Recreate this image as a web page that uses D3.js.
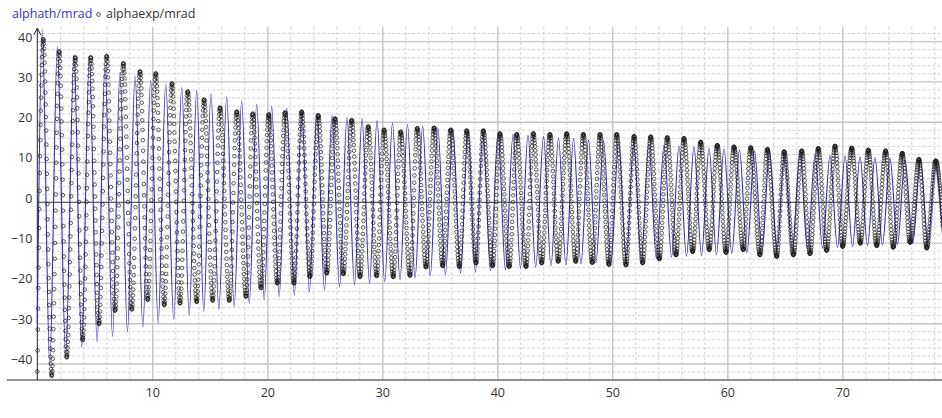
<!DOCTYPE html>
<html>
<head>
<meta charset="utf-8">
<script src="https://cdn.jsdelivr.net/npm/d3@7"></script>
<style>
body { margin: 0; background: #fff; }
svg { display: block; font-family: "Open Sans", "Segoe UI", sans-serif; }
.ticklabels text { fill: #333; font-size: 12.5px; }
</style>
</head>
<body>
<div id="chart"></div>
<script>
// theory curve: start value, then alternating peaks / troughs (t in s, alpha in mrad)
const thTime = [0, 0.43, 1.08, 1.74, 2.47, 3.19, 3.86, 4.52, 5.20, 5.89, 6.54, 7.19, 7.84, 8.50, 9.18, 9.86, 10.51,
    11.17, 11.86, 12.56, 13.21, 13.86, 14.48, 15.10, 15.79, 16.47, 17.12, 17.77, 18.43, 19.08, 19.73, 20.38, 21.03,
    21.69, 22.35, 23.00, 23.66, 24.31, 24.97, 25.63, 26.28, 26.93, 27.58, 28.24, 28.89, 29.54, 30.21, 30.89, 31.54,
    32.19, 32.85, 33.51, 34.17, 34.83, 35.49, 36.14, 36.80, 37.45, 38.10, 38.76, 39.41, 40.06, 40.71, 41.37, 42.02,
    42.67, 43.34, 44.02, 44.67, 45.32, 45.97, 46.63, 47.28, 47.93, 48.58, 49.24, 49.89, 50.55, 51.21, 51.86, 52.52,
    53.17, 53.83, 54.50, 55.15, 55.80, 56.45, 57.10, 57.76, 58.41, 59.06, 59.71, 60.39, 61.06, 61.71, 62.37, 63.02,
    63.67, 64.32, 64.97, 65.65, 66.32, 66.97, 67.63, 68.28, 68.93, 69.58, 70.24, 70.89, 71.54, 72.19, 72.84, 73.49,
    74.15, 74.80, 75.45, 76.13, 76.80, 77.45, 78.10, 78.75];
const thValue = [-30, 43, -40.5, 38.5, -38, 36.5, -36, 35.5, -34.6, 34, -33.3, 32.3, -32.1, 31.3, -30.9, 30.3, -30,
    29.4, -29, 28.5, -28, 27.7, -27.1, 27, -26.6, 26.2, -25.9, 25.2, -25.1, 24.3, -24.2, 23.8, -23.4, 23.4, -23,
    22.6, -22.2, 22, -21.8, 21.5, -21, 21.1, -20.5, 20.7, -20.1, 20.3, -19.7, 19.7, -19.3, 19.3, -18.8, 18.9, -18.3,
    18.5, -18, 18.1, -17.6, 17.8, -17.3, 17.5, -17, 17.2, -16.7, 16.9, -16.4, 16.6, -16.1, 16.3, -15.8, 16, -15.5,
    15.8, -15.3, 15.5, -15, 15.3, -14.7, 15, -14.4, 14.8, -14.1, 14.5, -13.9, 14.2, -13.6, 13.9, -13.4, 13.7, -13.2,
    13.4, -13, 13.3, -12.7, 13, -12.5, 12.7, -12.2, 12.5, -12, 12.3, -11.8, 12, -11.6, 11.8, -11.4, 11.6, -11.2,
    11.5, -11, 11.3, -10.8, 11.1, -10.6, 10.9, -10.4, 10.6, -10.2, 10.2, -10, 9.8, -9.7];

// measured data: alternating troughs / peaks
const expTime = [0.00, 0.52, 1.25, 1.91, 2.56, 3.30, 3.95, 4.64, 5.37, 6.03, 6.76, 7.48, 8.21, 8.93, 9.60, 10.30,
    11.04, 11.71, 12.41, 13.08, 13.86, 14.50, 15.25, 15.89, 16.70, 17.34, 18.15, 18.73, 19.45, 20.12, 20.87, 21.54,
    22.32, 22.99, 23.71, 24.43, 25.17, 25.89, 26.61, 27.34, 28.06, 28.78, 29.51, 30.15, 30.96, 31.60, 32.41, 33.04,
    33.80, 34.50, 35.25, 35.95, 36.70, 37.34, 38.15, 38.78, 39.60, 40.23, 41.04, 41.69, 42.50, 43.13, 43.86, 44.58,
    45.30, 46.03, 46.82, 47.48, 48.26, 48.93, 49.71, 50.38, 51.19, 51.89, 52.64, 53.34, 54.09, 54.78, 55.54, 56.23,
    56.99, 57.69, 58.43, 59.13, 59.89, 60.58, 61.39, 62.03, 62.84, 63.48, 64.30, 64.94, 65.75, 66.47, 67.19, 67.91,
    68.64, 69.37, 70.03, 70.82, 71.57, 72.26, 72.99, 73.77, 74.43, 75.22, 75.89, 76.67, 77.34, 78.12, 78.85];
const expValue = [-42, 40.5, -43.1, 37.5, -38.5, 36, -34.2, 36, -30.2, 36.3, -26.9, 34.5, -26.6, 32.5, -24.2, 32,
    -25.5, 29.5, -25.1, 27.5, -24.7, 25.5, -24.4, 23.5, -24.4, 22.5, -23.4, 22, -21.3, 21.8, -20.1, 22.3, -20.1, 22.5,
    -18.5, 21.6, -17.6, 20.8, -17.8, 20.4, -18.5, 18.8, -18.3, 18.0, -18.5, 17.5, -18.2, 18.4, -16.1, 18.5, -15.8,
    18.0, -16.0, 17.8, -15.1, 17.8, -15.8, 17.1, -16.0, 16.9, -16.0, 17.1, -15.1, 16.9, -14.7, 17.1, -14.7, 16.9,
    -15.0, 16.9, -15.5, 16.9, -15.6, 16.4, -15.1, 16.3, -14.1, 16.1, -13.1, 15.9, -12.3, 15.0, -11.8, 14.2, -12.5,
    13.8, -11.8, 13.6, -13.1, 13.2, -13.5, 12.6, -13.1, 12.8, -12.8, 13.4, -12.0, 14.0, -11.0, 13.5, -10.2, 13.0,
    -10.8, 12.8, -11.2, 12.2, -10.0, 10.7, -11.4, 10.3, -10.5];
const sampleStep = 0.022; // measuring interval, s

const xTicks = [10, 20, 30, 40, 50, 60, 70];
const yTicks = [-40, -30, -20, -10, 0, 10, 20, 30, 40];

const width = 942, height = 418;
const svg = d3.select("#chart").append("svg")
    .attr("width", width)
    .attr("height", height);

const x = d3.scaleLinear().domain([-3.2435, 78.67]).range([0, width]);
const y = d3.scaleLinear().domain([-44.1, 43.5]).range([380, 27]);
const plotLeft = x(0), plotTop = y(43.5), plotBottom = y(-44.1), plotRight = width;

const xMinor = d3.range(2, 79, 2).filter(v => v % 10 !== 0);
const yMinor = d3.range(-44, 44, 2).filter(v => v % 10 !== 0);

// minor grid (dashed)
svg.append("g")
    .attr("transform", `translate(0,${plotBottom})`)
    .call(d3.axisBottom(x).tickValues(xMinor).tickSize(-(plotBottom - plotTop)).tickFormat(""))
    .call(g => g.select(".domain").remove())
    .selectAll("line").attr("stroke", "#d2d2d2").attr("stroke-dasharray", "3,2");
svg.append("g")
    .attr("transform", `translate(${plotLeft},0)`)
    .call(d3.axisLeft(y).tickValues(yMinor).tickSize(-(plotRight - plotLeft)).tickFormat(""))
    .call(g => g.select(".domain").remove())
    .selectAll("line").attr("stroke", "#d2d2d2").attr("stroke-dasharray", "3,2");

// major grid
svg.append("g")
    .attr("transform", `translate(0,${plotBottom})`)
    .call(d3.axisBottom(x).tickValues(xTicks).tickSize(-(plotBottom - plotTop)).tickFormat(""))
    .call(g => g.select(".domain").remove())
    .selectAll("line").attr("stroke", "#c4c4c4").attr("stroke-width", 1.4);
svg.append("g")
    .attr("transform", `translate(${plotLeft},0)`)
    .call(d3.axisLeft(y).tickValues(yTicks.filter(v => v !== 0)).tickSize(-(plotRight - plotLeft)).tickFormat(""))
    .call(g => g.select(".domain").remove())
    .selectAll("line").attr("stroke", "#c4c4c4").attr("stroke-width", 1.4);

// zero line, axes
svg.append("line")
    .attr("x1", plotLeft).attr("x2", plotRight)
    .attr("y1", y(0)).attr("y2", y(0))
    .attr("stroke", "#333");
svg.append("line")
    .attr("x1", 7).attr("x2", plotRight)
    .attr("y1", plotBottom).attr("y2", plotBottom)
    .attr("stroke", "#6e6e6e").attr("stroke-width", 1.5);
svg.append("line")
    .attr("x1", plotLeft).attr("x2", plotLeft)
    .attr("y1", plotTop + 1).attr("y2", plotBottom)
    .attr("stroke", "#222");
svg.append("path")
    .attr("d", `M${plotLeft - 3.5},${plotTop + 8}L${plotLeft},${plotTop + 1}L${plotLeft + 3.5},${plotTop + 8}`)
    .attr("fill", "none")
    .attr("stroke", "#222");

// tick labels
svg.append("g")
    .attr("class", "ticklabels")
    .attr("transform", `translate(0,${plotBottom})`)
    .call(d3.axisBottom(x).tickValues(xTicks).tickSize(0).tickPadding(8))
    .call(g => g.select(".domain").remove())
    .selectAll("text").attr("fill", "#333");
svg.append("g")
    .attr("class", "ticklabels")
    .attr("transform", `translate(${plotLeft},0)`)
    .call(d3.axisLeft(y).tickValues(yTicks).tickSize(0).tickPadding(5))
    .call(g => g.select(".domain").remove())
    .selectAll("text").attr("dy", "0em").attr("fill", "#333");
svg.selectAll(".ticklabels").attr("font-family", null).attr("font-size", null);

// plot area
svg.append("clipPath").attr("id", "plot")
    .append("rect")
    .attr("x", plotLeft - 3).attr("y", plotTop)
    .attr("width", plotRight - plotLeft + 3).attr("height", plotBottom - plotTop);
const plot = svg.append("g").attr("clip-path", "url(#plot)");

const line = d3.line()
    .x((d, i) => x(thTime[i]))
    .y((d, i) => y(thValue[i]))
    .curve(d3.curveMonotoneX);

plot.append("path")
    .attr("d", line(thTime))
    .attr("fill", "none")
    .attr("stroke", "#2c2cb4")
    .attr("stroke-width", 1.1);

// read the measured values at every sampling time off the library's monotone curve
function curveSegments(times, values) {
    const segs = [];
    let px = 0, py = 0;
    const recorder = {
        moveTo(a, b) { px = a; py = b; },
        lineTo(a, b) {
            segs.push([px, py, px + (a - px) / 3, py + (b - py) / 3, a - (a - px) / 3, b - (b - py) / 3, a, b]);
            px = a; py = b;
        },
        bezierCurveTo(x1, y1, x2, y2, a, b) { segs.push([px, py, x1, y1, x2, y2, a, b]); px = a; py = b; },
        closePath() {}
    };
    d3.line().curve(d3.curveMonotoneX).context(recorder)(times.map((t, i) => [t, values[i]]));
    return segs;
}
const expSegs = curveSegments(expTime, expValue);
const segAt = d3.bisector(s => s[0]).right;
function expAt(t) {
    const s = expSegs[Math.max(0, segAt(expSegs, t) - 1)];
    const u = Math.min(1, Math.max(0, (t - s[0]) / (s[6] - s[0]))), v = 1 - u;
    return v * v * v * s[1] + 3 * v * v * u * s[3] + 3 * v * u * u * s[5] + u * u * u * s[7];
}
const samples = d3.range(0, 78.75, sampleStep).map(t => ({ t: t, v: expAt(t) }));

plot.selectAll("circle.exp")
    .data(samples)
    .enter()
    .append("circle")
    .attr("class", "exp")
    .attr("cx", d => x(d.t))
    .attr("cy", d => y(d.v))
    .attr("r", 1.8)
    .attr("fill", "none")
    .attr("stroke", "#1a1a1a")
    .attr("stroke-width", 0.7);

// legend
svg.append("text")
    .attr("x", 12).attr("y", 18)
    .attr("fill", "#3535c0")
    .style("font-size", "12.5px")
    .text("alphath/mrad");
svg.append("circle")
    .attr("cx", 98.5).attr("cy", 14.5).attr("r", 1.9)
    .attr("fill", "none").attr("stroke", "#333").attr("stroke-width", 0.85);
svg.append("text")
    .attr("x", 106).attr("y", 18)
    .attr("fill", "#333")
    .style("font-size", "12.5px")
    .text("alphaexp/mrad");
</script>
</body>
</html>
